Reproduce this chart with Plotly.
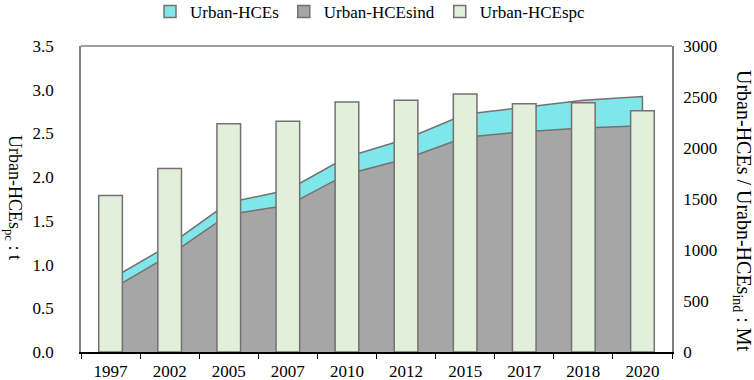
import plotly.graph_objects as go

years = ["1997", "2002", "2005", "2007", "2010", "2012", "2015", "2017", "2018", "2020"]
hces_total = [713, 1050, 1465, 1588, 1912, 2089, 2330, 2396, 2468, 2505]   # Mt
hces_ind = [610, 950, 1348, 1438, 1743, 1895, 2105, 2160, 2197, 2218]      # Mt
hces_pc = [1.79, 2.10, 2.61, 2.64, 2.86, 2.88, 2.95, 2.84, 2.85, 2.76]     # t

FONT = "Liberation Serif, Times New Roman, serif"
EDGE = "#767171"
CYAN = "#7fe6ea"
GRAY = "#a6a6a6"
GREEN = "#e2efda"

fig = go.Figure()

# Areas (right axis, Mt) - closed at the last category down to zero
fig.add_trace(go.Scatter(
    x=years + [years[-1]], y=hces_total + [0], name="Urban-HCEs",
    mode="lines", fill="tozeroy", fillcolor=CYAN, showlegend=False,
    line=dict(color=EDGE, width=1.5), yaxis="y", hoverinfo="skip"))
fig.add_trace(go.Scatter(
    x=years + [years[-1]], y=hces_ind + [0], name="Urban-HCEsind",
    mode="lines", fill="tozeroy", fillcolor=GRAY, showlegend=False,
    line=dict(color=EDGE, width=1.5), yaxis="y", hoverinfo="skip"))

# Legend-only square keys for the two areas
fig.add_trace(go.Bar(x=[None], y=[None], name="Urban-HCEs", yaxis="y",
                     marker=dict(color=CYAN, line=dict(color=EDGE, width=1.5))))
fig.add_trace(go.Bar(x=[None], y=[None], name="Urban-HCEsind", yaxis="y",
                     marker=dict(color=GRAY, line=dict(color=EDGE, width=1.5))))

# Bars (left axis, t)
fig.add_trace(go.Bar(
    x=years, y=hces_pc, name="Urban-HCEspc", width=0.4,
    marker=dict(color=GREEN, line=dict(color=EDGE, width=1.5)),
    yaxis="y2"))

fig.update_layout(
    template="none",
    width=754, height=380,
    margin=dict(l=81, r=82, t=46, b=28, autoexpand=False),
    paper_bgcolor="white", plot_bgcolor="white",
    font=dict(family=FONT, size=17, color="black"),
    showlegend=True,
    legend=dict(orientation="h", x=(150 - 81) / 591, xanchor="left", y=1 + 34 / 306,
                yanchor="middle", font=dict(family=FONT, size=17, color="black"),
                bgcolor="rgba(0,0,0,0)", itemwidth=30, traceorder="normal", borderwidth=0),
    xaxis=dict(type="category", showgrid=False, showline=True, linecolor="black", linewidth=1.5,
               ticks="outside", tickson="boundaries", ticklen=5, tickcolor="black",
               ticklabelstandoff=3, tickfont=dict(family=FONT, size=17, color="black"),
               zeroline=False),
    yaxis=dict(range=[0, 3000], dtick=500, side="right", showgrid=False, zeroline=False,
               showline=True, linecolor="#808080", linewidth=1.5, ticks="",
               ticklabelstandoff=6, tickfont=dict(family=FONT, size=17, color="black")),
    yaxis2=dict(range=[0, 3.5], dtick=0.5, tickformat=".1f", side="left", overlaying="y",
                showgrid=False, zeroline=False, showline=True, linecolor="#808080",
                linewidth=1.5, ticks="", ticklabelstandoff=22,
                tickfont=dict(family=FONT, size=17, color="black")),
    bargap=0.6,
)

fig.add_shape(type="line", xref="paper", yref="paper", x0=0, x1=1, y0=1, y1=1,
              line=dict(color="#808080", width=1.5))

fig.add_annotation(text="Urban-HCEs<sub>pc</sub> : t", textangle=90, xref="paper", yref="paper",
                   x=(14 - 81) / 591, y=(352 - 197) / 306, showarrow=False,
                   font=dict(family=FONT, size=18, color="black"),
                   xanchor="center", yanchor="middle")
fig.add_annotation(text="Urban-HCEs / Urabn-HCEs<sub>ind</sub> : Mt", textangle=90,
                   xref="paper", yref="paper", x=(743 - 81) / 591, y=(352 - 211) / 306,
                   showarrow=False, font=dict(family=FONT, size=20, color="black"),
                   xanchor="center", yanchor="middle")

fig.write_html("out.html", config={"displayModeBar": False},
               post_script="document.body.style.margin='0';document.body.style.padding='0';")
